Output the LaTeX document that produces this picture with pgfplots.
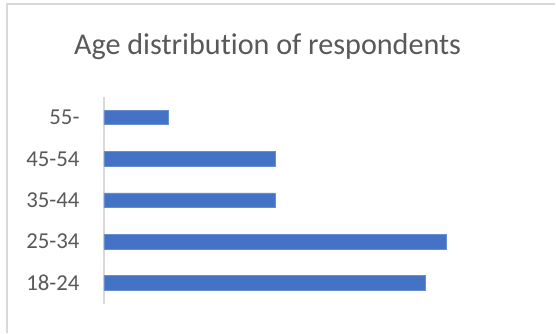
\documentclass[border=0pt]{standalone}
\usepackage{pgfplots}
\pgfplotsset{compat=1.18}
\usepackage{fontspec}
\setmainfont{Carlito}[RawFeature=-liga]
\definecolor{barblue}{HTML}{4472C4}
\definecolor{txtgray}{HTML}{595959}
\definecolor{linegray}{HTML}{D9D9D9}
\begin{document}
\begin{tikzpicture}
\fill[white] (0,0) rectangle (278pt,166.5pt);
\draw[linegray, line width=0.8pt] (3.5pt,0) -- (3.5pt,164.5pt) -- (278pt,164.5pt);
\node[anchor=base, text=txtgray, font=\fontsize{15.1}{18}\selectfont, inner sep=0pt] at (134pt,139pt) {Age distribution of respondents};
\begin{axis}[
  at={(52pt,14.5pt)}, anchor=south west,
  scale only axis, width=214.4pt, height=103.5pt,
  xbar, xmin=0, xmax=20,
  ymin=-0.5, ymax=4.5,
  bar width=7.25pt,
  hide x axis,
  axis y line*=left,
  y axis line style={linegray, line width=0.8pt, -},
  ytick={0,1,2,3,4},
  yticklabels={18-24,25-34,35-44,45-54,55-},
  major tick length=0pt,
  yticklabel style={text=txtgray, font=\fontsize{11.4}{13}\selectfont, anchor=east, inner sep=0pt, xshift=-12pt},
  clip=false,
]
\addplot[fill=barblue, draw=barblue!80!white, line width=0.3pt] coordinates {(15,0) (16,1) (8,2) (8,3) (3,4)};
\end{axis}
\end{tikzpicture}
\end{document}
